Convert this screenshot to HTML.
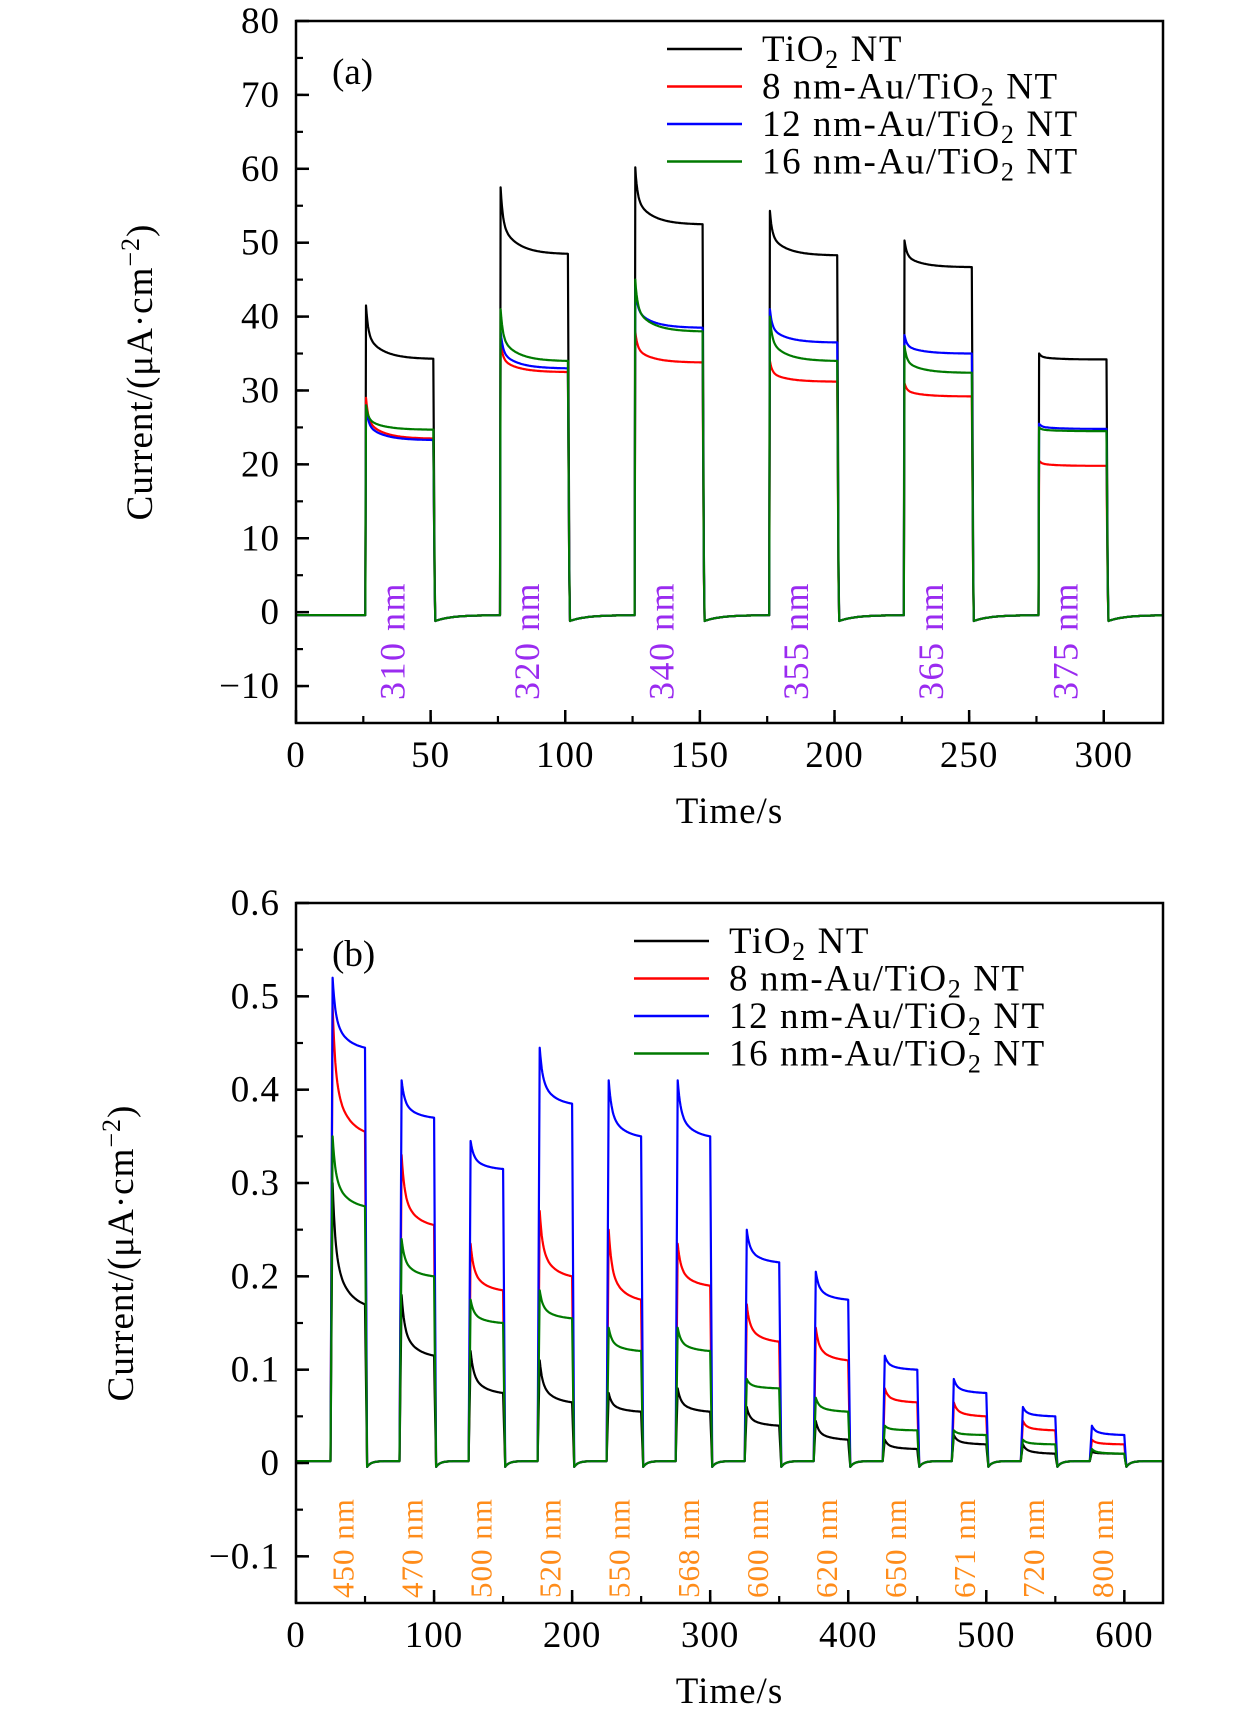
<!DOCTYPE html>
<html><head><meta charset="utf-8">
<style>
html,body{margin:0;padding:0;background:#fff;}
svg{display:block;font-family:"Liberation Serif",serif;}
</style></head>
<body>
<svg id="fig" width="1260" height="1723" viewBox="0 0 1260 1723" xmlns="http://www.w3.org/2000/svg"></svg>
<script>
// ---- Panel (a) data ----
const aStarts = [26, 76, 126, 176, 226, 276];
const aWavelengths = ["310 nm","320 nm","340 nm","355 nm","365 nm","375 nm"];
const aTiO2Peak = [41.5, 57.5, 60.2, 54.3, 50.3, 35.0];
const aTiO2End  = [34.3, 48.5, 52.5, 48.3, 46.7, 34.2];
const aAu8Peak  = [29.0, 36.5, 38.0, 34.0, 31.0, 20.5];
const aAu8End   = [23.5, 32.5, 33.8, 31.2, 29.2, 19.8];
const aAu12Peak = [28.0, 38.0, 44.0, 41.0, 37.5, 25.5];
const aAu12End  = [23.3, 33.0, 38.5, 36.5, 35.0, 24.8];
const aAu16Peak = [28.0, 41.0, 45.0, 40.0, 36.0, 25.0];
const aAu16End  = [24.7, 34.0, 38.0, 34.0, 32.4, 24.5];
const aYTicks = [-10, 0, 10, 20, 30, 40, 50, 60, 70, 80];
const aXTicks = [0, 50, 100, 150, 200, 250, 300];
// ---- Panel (b) data ----
const bStarts = [25, 75, 125, 175, 225, 275, 325, 375, 425, 475, 525, 575];
const bWavelengths = ["450 nm","470 nm","500 nm","520 nm","550 nm","568 nm","600 nm","620 nm","650 nm","671 nm","720 nm","800 nm"];
const bTiO2Peak = [0.30,0.18,0.12,0.11,0.075,0.08,0.06,0.045,0.025,0.03,0.02,0.012];
const bTiO2End  = [0.17,0.115,0.075,0.065,0.055,0.055,0.04,0.025,0.015,0.02,0.01,0.01];
const bAu8Peak  = [0.49,0.33,0.235,0.27,0.25,0.235,0.17,0.145,0.08,0.065,0.045,0.025];
const bAu8End   = [0.355,0.255,0.185,0.2,0.175,0.19,0.13,0.11,0.065,0.05,0.035,0.02];
const bAu12Peak = [0.52,0.41,0.345,0.445,0.41,0.41,0.25,0.205,0.115,0.09,0.06,0.04];
const bAu12End  = [0.445,0.37,0.315,0.385,0.35,0.35,0.215,0.175,0.10,0.075,0.05,0.03];
const bAu16Peak = [0.35,0.24,0.175,0.185,0.145,0.145,0.09,0.07,0.04,0.035,0.025,0.015];
const bAu16End  = [0.275,0.20,0.15,0.155,0.12,0.12,0.08,0.055,0.035,0.03,0.02,0.01];
const bYTicks = [-0.1, 0, 0.1, 0.2, 0.3, 0.4, 0.5, 0.6];
const bYTickLabels = ["\u22120.1","0","0.1","0.2","0.3","0.4","0.5","0.6"];
const bXTicks = [0, 100, 200, 300, 400, 500, 600];
const seriesNames = ["TiO\u2082 NT","8 nm-Au/TiO\u2082 NT","12 nm-Au/TiO\u2082 NT","16 nm-Au/TiO\u2082 NT"];

const NS = "http://www.w3.org/2000/svg";
const svg = document.getElementById('fig');
function el(tag, attrs, parent){ const e=document.createElementNS(NS,tag); for(const k in attrs) e.setAttribute(k,attrs[k]); (parent||svg).appendChild(e); return e; }
const colors = ["#000000","#ff0000","#0000ff","#007a00"];

function panel(cfg){
  const g = el('g',{});
  
  
  const X = v => cfg.L + (v - cfg.xmin)/(cfg.xmax-cfg.xmin)*(cfg.R-cfg.L);
  const Y = v => cfg.B - (v - cfg.ymin)/(cfg.ymax-cfg.ymin)*(cfg.B-cfg.T);
  const cid = cfg.name+'-clip';
  const cp = el('clipPath',{id:cid}, g); el('rect',{x:cfg.L,y:cfg.T,width:cfg.R-cfg.L,height:cfg.B-cfg.T},cp);
  const plot = el('g',{'clip-path':'url(#'+cid+')'}, g);
  
  
  cfg.starts.forEach((s,i)=>{
    const x = X(s) + cfg.lblDx, y = cfg.lblY;
    const t = el('text',{x:x,y:y,fill:cfg.lblColor,'font-size':cfg.lblSize,'letter-spacing':cfg.lblLs,transform:`rotate(-90 ${x} ${y})`,'dominant-baseline':'middle'}, g);
    
    
    t.textContent = cfg.labels[i];
  });
  cfg.series.forEach((sr,si)=>{
    let d = ''; const dt = cfg.dt;
    const base = cfg.base;
    for(let t=cfg.xmin; t<=cfg.xmax; t+=dt){
      let v = base;
      for(let i=0;i<cfg.starts.length;i++){
        const t0=cfg.starts[i], t1=t0+25;
        if(t>=t0 && t<t1){
          const pk=sr.peak[i], en=sr.end[i];
          const r = cfg.rise;
          if(r && t-t0<r){ v = base + (pk-base)*((t-t0)/r); }
          else {
            const u=t-t0-r, span=25-r;
            let f = 0.55*Math.exp(-u/cfg.tauFast)+0.45*Math.exp(-u/cfg.tauSlow);
            const fEnd = 0.55*Math.exp(-span/cfg.tauFast)+0.45*Math.exp(-span/cfg.tauSlow);
            f = (f-fEnd)/(1-fEnd);
            v = en + (pk-en)*f;
          }
        } else if(t>=t1 && t<t1+25){
          const u=t-t1;
          v = base - cfg.under*Math.exp(-u/cfg.underTau);
          if(u<cfg.fall) v = v + (sr.end[i]-v)*(1-u/cfg.fall);
        }
      }
      d += (d?'L':'M')+X(t).toFixed(1)+' '+Y(v).toFixed(1);
    }
    const p = el('path',{d:d,fill:'none',stroke:colors[si],'stroke-width':2.2,'stroke-linejoin':'round'}, plot);
    
    
  });
  const fr = el('rect',{x:cfg.L,y:cfg.T,width:cfg.R-cfg.L,height:cfg.B-cfg.T,fill:'none',stroke:'#000','stroke-width':2.5}, g);
  
  
  cfg.yTicks.forEach((v,i)=>{
    el('line',{x1:cfg.L,x2:cfg.L+13,y1:Y(v),y2:Y(v),stroke:'#000','stroke-width':2.5}, g);
    const t = el('text',{x:cfg.L-16,y:Y(v)+12,'text-anchor':'end','font-size':37,'letter-spacing':1}, g);
    
    
    t.textContent = cfg.yLabels[i];
  });
  for(let v=cfg.ymin+cfg.yMinor; v<cfg.ymax; v+=cfg.yMinor){
    el('line',{x1:cfg.L,x2:cfg.L+7,y1:Y(v),y2:Y(v),stroke:'#000','stroke-width':2.2}, g);
  }
  cfg.xTicks.forEach(v=>{
    el('line',{x1:X(v),x2:X(v),y1:cfg.B,y2:cfg.B-13,stroke:'#000','stroke-width':2.5}, g);
    const t = el('text',{x:X(v),y:cfg.B+44,'text-anchor':'middle','font-size':37,'letter-spacing':1}, g);
    
    
    t.textContent = String(v);
  });
  for(let v=cfg.xMinor; v<cfg.xmax; v+=cfg.xMinor){
    el('line',{x1:X(v),x2:X(v),y1:cfg.B,y2:cfg.B-7,stroke:'#000','stroke-width':2.2}, g);
  }
  const xt = el('text',{x:(cfg.L+cfg.R)/2,y:cfg.B+100,'text-anchor':'middle','font-size':37,'letter-spacing':1}, g);
  
  
  xt.textContent = 'Time/s';
  const yx = cfg.yTitleX, yy = (cfg.T+cfg.B)/2;
  const yt = el('text',{x:yx,y:yy,'text-anchor':'middle','font-size':37,'letter-spacing':1,transform:`rotate(-90 ${yx} ${yy})`}, g);
  
  
  yt.innerHTML = 'Current/(μA·cm<tspan dy="-13" font-size="26">\u22122</tspan><tspan dy="13">)</tspan>';
  const pl = el('text',{x:cfg.L+36,y:cfg.T+63,'font-size':37}, g);
  
  
  pl.textContent = cfg.letter;
  const lg = el('g',{}, g);
  
  
  seriesNames.forEach((n,i)=>{
    const y = cfg.legY + i*37.5;
    const ln = el('line',{x1:cfg.legX,x2:cfg.legX+75,y1:y,y2:y,stroke:colors[i],'stroke-width':2.5}, lg);
    
    
    const t = el('text',{x:cfg.legX+95,y:y+12,'font-size':37,'letter-spacing':1.6}, lg);
    
    
    t.innerHTML = n.replace('TiO\u2082','TiO<tspan dy="7" font-size="26">2</tspan><tspan dy="-7"> </tspan>').replace('</tspan> NT','</tspan>NT');
  });
}

panel({name:'panel-a',letter:'(a)',L:296,R:1163,T:21,B:723,xmin:0,xmax:322,ymin:-15,ymax:80,
  starts:aStarts,labels:aWavelengths,lblDx:30,lblY:700,lblColor:'#9a2bf0',lblSize:36,lblLs:1.5,
  series:[{peak:aTiO2Peak,end:aTiO2End},{peak:aAu8Peak,end:aAu8End},{peak:aAu12Peak,end:aAu12End},{peak:aAu16Peak,end:aAu16End}],
  dt:0.25,base:-0.4,tauFast:0.8,tauSlow:6,rise:0,under:0.9,underTau:6,fall:0.6,
  yTicks:aYTicks,yLabels:aYTicks.map(v=>v<0?'\u2212'+(-v):String(v)),yMinor:5,xTicks:aXTicks,xMinor:25,
  yTitleX:152,legX:667,legY:49});
panel({name:'panel-b',letter:'(b)',L:296,R:1163,T:903,B:1603,xmin:0,xmax:628,ymin:-0.15,ymax:0.6,
  starts:bStarts,labels:bWavelengths,lblDx:16,lblY:1598,lblColor:'#ff8c1a',lblSize:31,lblLs:1,
  series:[{peak:bTiO2Peak,end:bTiO2End},{peak:bAu8Peak,end:bAu8End},{peak:bAu12Peak,end:bAu12End},{peak:bAu16Peak,end:bAu16End}],
  dt:0.5,base:0.002,tauFast:2,tauSlow:10,rise:1.5,under:0.01,underTau:3,fall:1.5,
  yTicks:bYTicks,yLabels:bYTickLabels,yMinor:0.05,xTicks:bXTicks,xMinor:50,
  yTitleX:133,legX:634,legY:941});
</script>
</body></html>
